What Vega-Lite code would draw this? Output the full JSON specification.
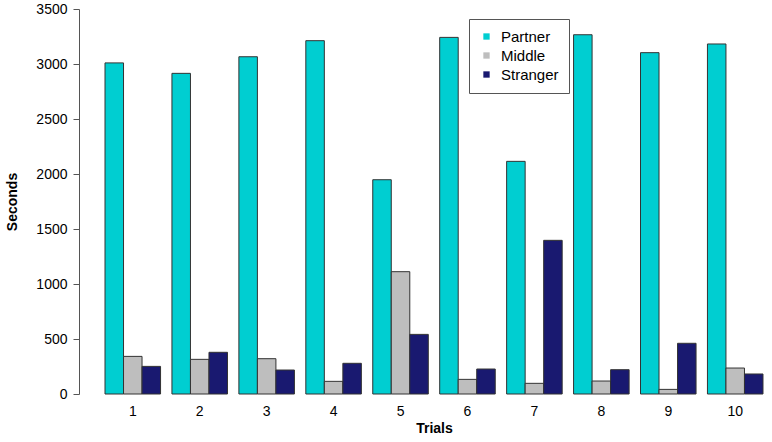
{
  "$schema": "https://vega.github.io/schema/vega-lite/v6.json",
  "width": 675,
  "height": 385,
  "autosize": "none",
  "padding": {"left": 96.5, "top": 9, "right": 0.5, "bottom": 48},
  "background": "white",
  "config": {
    "view": {"stroke": null},
    "font": "Liberation Sans",
    "axis": {"labelColor": "black", "titleColor": "black", "grid": false}
  },
  "data": {
    "values": [
      {"trial": 1, "group": "Partner", "seconds": 3010},
      {"trial": 1, "group": "Middle", "seconds": 342},
      {"trial": 1, "group": "Stranger", "seconds": 251},
      {"trial": 2, "group": "Partner", "seconds": 2915},
      {"trial": 2, "group": "Middle", "seconds": 315},
      {"trial": 2, "group": "Stranger", "seconds": 379},
      {"trial": 3, "group": "Partner", "seconds": 3066},
      {"trial": 3, "group": "Middle", "seconds": 321},
      {"trial": 3, "group": "Stranger", "seconds": 218},
      {"trial": 4, "group": "Partner", "seconds": 3212},
      {"trial": 4, "group": "Middle", "seconds": 115},
      {"trial": 4, "group": "Stranger", "seconds": 279},
      {"trial": 5, "group": "Partner", "seconds": 1948},
      {"trial": 5, "group": "Middle", "seconds": 1112},
      {"trial": 5, "group": "Stranger", "seconds": 542},
      {"trial": 6, "group": "Partner", "seconds": 3242},
      {"trial": 6, "group": "Middle", "seconds": 133},
      {"trial": 6, "group": "Stranger", "seconds": 227},
      {"trial": 7, "group": "Partner", "seconds": 2115},
      {"trial": 7, "group": "Middle", "seconds": 97},
      {"trial": 7, "group": "Stranger", "seconds": 1397},
      {"trial": 8, "group": "Partner", "seconds": 3266},
      {"trial": 8, "group": "Middle", "seconds": 118},
      {"trial": 8, "group": "Stranger", "seconds": 221},
      {"trial": 9, "group": "Partner", "seconds": 3103},
      {"trial": 9, "group": "Middle", "seconds": 42},
      {"trial": 9, "group": "Stranger", "seconds": 461},
      {"trial": 10, "group": "Partner", "seconds": 3182},
      {"trial": 10, "group": "Middle", "seconds": 236},
      {"trial": 10, "group": "Stranger", "seconds": 182}
    ]
  },
  "mark": {"type": "bar", "stroke": "#333333", "strokeWidth": 1},
  "encoding": {
    "x": {
      "field": "trial",
      "type": "ordinal",
      "sort": "ascending",
      "scale": {"paddingInner": 0.17, "paddingOuter": 0.127},
      "axis": {
        "title": "Trials",
        "titleFontWeight": "bold",
        "titleFontSize": 14,
        "titlePadding": 3,
        "labelAngle": 0,
        "labelFontSize": 14,
        "labelPadding": 10,
        "ticks": false,
        "domain": false
      }
    },
    "xOffset": {
      "field": "group",
      "type": "nominal",
      "sort": ["Partner", "Middle", "Stranger"],
      "scale": {"paddingInner": 0, "paddingOuter": 0}
    },
    "y": {
      "field": "seconds",
      "type": "quantitative",
      "scale": {"domain": [0, 3500], "nice": false},
      "axis": {
        "title": "Seconds",
        "titleFontWeight": "bold",
        "titleFontSize": 14,
        "titlePadding": 16,
        "format": "d",
        "values": [0, 500, 1000, 1500, 2000, 2500, 3000, 3500],
        "offset": 17.5,
        "tickSize": 6,
        "tickColor": "#555555",
        "domainColor": "#555555",
        "labelFontSize": 14,
        "labelPadding": 6
      }
    },
    "color": {
      "field": "group",
      "type": "nominal",
      "sort": ["Partner", "Middle", "Stranger"],
      "scale": {
        "domain": ["Partner", "Middle", "Stranger"],
        "range": ["#00CED1", "#BEBEBE", "#191970"]
      },
      "legend": {
        "title": null,
        "orient": "none",
        "legendX": 372.5,
        "legendY": 10,
        "strokeColor": "#555555",
        "fillColor": "white",
        "padding": 10,
        "labelFontSize": 15,
        "labelColor": "black",
        "symbolType": "square",
        "symbolSize": 40,
        "symbolStrokeWidth": 0,
        "rowPadding": 3,
        "labelOffset": 7
      }
    }
  }
}
